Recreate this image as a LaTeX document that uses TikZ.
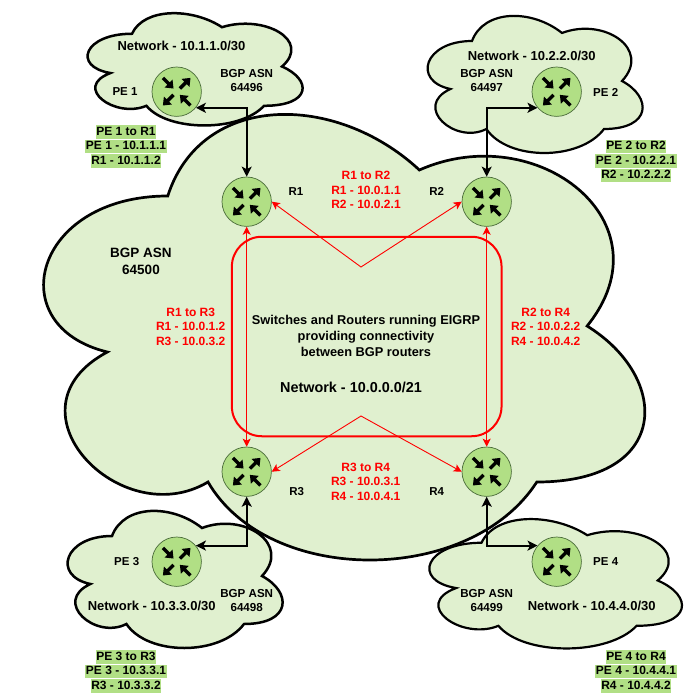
\documentclass[tikz,border=0pt]{standalone}
\usepackage{fontspec}
\setmainfont{Liberation Sans}
\usetikzlibrary{arrows.meta}
\definecolor{cloudfill}{HTML}{E0F0CF}
\definecolor{routerfill}{HTML}{B1DF85}
\definecolor{routerline}{HTML}{4A6B3A}
\definecolor{corered}{HTML}{FF0000}
\newcommand{\cloudshape}[5]{%
  \path[#5,shift={(#1,#2)},x=#3pt,y=-#4pt]
    (.25,.25) .. controls (.05,.25) and (0,.5) .. (.16,.55)
    .. controls (0,.66) and (.18,.9) .. (.31,.8)
    .. controls (.4,1) and (.7,1) .. (.8,.8)
    .. controls (1,.8) and (1,.6) .. (.875,.5)
    .. controls (1,.3) and (.8,.1) .. (.625,.2)
    .. controls (.5,.05) and (.3,.05) .. (.25,.25) -- cycle;}
\newcommand{\hlb}[1]{\setlength{\fboxsep}{0pt}\colorbox{routerfill}{\vrule height 9.9pt depth 3.2pt width 0pt\hspace{.5pt}#1\hspace{.5pt}}}
\tikzset{
  routernode/.style={circle,draw=routerline,line width=.7pt,fill=routerfill,minimum size=49.4pt,inner sep=0pt},
  arrout/.pic={\fill[black] (4.5,-1.7)--(12.5,-1.7)--(12.5,-5.6)--(19.5,0)--(12.5,5.6)--(12.5,1.7)--(4.5,1.7)--cycle;},
  arrin/.pic={\fill[black] (19.5,-1.7)--(11.5,-1.7)--(11.5,-5.6)--(4.5,0)--(11.5,5.6)--(11.5,1.7)--(19.5,1.7)--cycle;},
  labbgp/.style={font=\fontsize{11.6}{14.6}\selectfont\bfseries,align=center,inner sep=0pt,text=black},
  labrtr/.style={font=\fontsize{11.5}{14}\selectfont\bfseries,inner sep=0pt,text=black},
  labnet/.style={font=\fontsize{13}{15}\selectfont\bfseries,inner sep=0pt,text=black},
  labred/.style={font=\fontsize{12}{14.6}\selectfont\bfseries,align=center,inner sep=0pt,text=corered},
  labhl/.style={font=\fontsize{12}{14.5}\selectfont\bfseries,align=center,inner sep=0pt,text=black},
  link/.style={line width=1.8pt,black,{Stealth[length=10pt,width=10pt,inset=2.5pt]}-{Stealth[length=10pt,width=10pt,inset=2.5pt]}},
  redlink/.style={line width=.9pt,corered,{Stealth[length=8pt,width=8pt,inset=2pt]}-{Stealth[length=8pt,width=8pt,inset=2pt]}},
}
\begin{document}
\begin{tikzpicture}[x=1pt,y=-1pt]
\useasboundingbox (0,0) rectangle (693,693);
% cloud fills
\cloudshape{0}{66}{671}{520}{fill=cloudfill}
\cloudshape{72}{1}{240}{131}{fill=cloudfill}
\cloudshape{412}{1}{240}{160}{fill=cloudfill}
\cloudshape{52}{496}{240}{160}{fill=cloudfill}
\cloudshape{411}{505}{282}{151}{fill=cloudfill}
% cloud outlines
\cloudshape{0}{66}{671}{520}{draw=black,line width=2.7pt}
\cloudshape{72}{1}{240}{131}{draw=black,line width=2.5pt}
\cloudshape{412}{1}{240}{160}{draw=black,line width=2.2pt}
\cloudshape{52}{496}{240}{160}{draw=black,line width=2.5pt}
\cloudshape{411}{505}{282}{151}{draw=black,line width=2.2pt}
% core
\node[draw=corered,line width=2pt,rounded corners=30pt,minimum width=269.7pt,minimum height=199.5pt,inner sep=0pt] (core) at (366.7,336.5) {};
% routers
\node[routernode] (R1) at (246.7,201.7) {};
\node[routernode] (R2) at (486.7,201.7) {};
\node[routernode] (R3) at (246.7,471.7) {};
\node[routernode] (R4) at (486.7,471.7) {};
\node[routernode] (PE1) at (176.7,91.7) {};
\node[routernode] (PE2) at (556.7,91.7) {};
\node[routernode] (PE3) at (176.7,561.7) {};
\node[routernode] (PE4) at (556.7,561.7) {};
\foreach \r in {R1,R2,R3,R4,PE1,PE2,PE3,PE4}{
  \pic[rotate=45] at (\r) {arrout};
  \pic[rotate=-135] at (\r) {arrout};
  \pic[rotate=135] at (\r) {arrin};
  \pic[rotate=-45] at (\r) {arrin};
}
\coordinate (apexT) at (361,267);
\coordinate (apexB) at (361,416);
% connectors
\draw[link] (PE1.-40) -| (R1.north);
\draw[link] (PE2.220) -| (R2.north);
\draw[link] (PE3.40) -| (R3.south);
\draw[link] (PE4.140) -| (R4.south);
\draw[redlink] (R1.east) -- (apexT) -- (R2.west);
\draw[redlink] (R3.east) -- (apexB) -- (R4.west);
\draw[redlink] (R1.south) -- (R3.north);
\draw[redlink] (R2.south) -- (R4.north);
% labels
\node[labnet] (netA) at (181.5,46) {Network - 10.1.1.0/30};
\node[labnet] (netB) at (531.7,56) {Network - 10.2.2.0/30};
\node[labnet] (netC) at (151.7,606) {Network - 10.3.3.0/30};
\node[labnet] (netD) at (591.7,606) {Network - 10.4.4.0/30};
\node[labbgp] (asnA) at (246.7,80.5) {BGP ASN\\64496};
\node[labbgp] (asnB) at (486.7,80.5) {BGP ASN\\64497};
\node[labbgp] (asnC) at (246.7,600.5) {BGP ASN\\64498};
\node[labbgp] (asnD) at (486.7,600.5) {BGP ASN\\64499};
\node[font=\fontsize{13.5}{17}\selectfont\bfseries,align=center,inner sep=0pt] (asnM) at (141,261.5) {BGP ASN\\64500};
\node[labrtr] (tPEa) at (125,92) {PE 1};
\node[labrtr] (tPEb) at (605.7,92) {PE 2};
\node[labrtr] (tPEc) at (126.7,561.7) {PE 3};
\node[labrtr] (tPEd) at (605.7,561.7) {PE 4};
\node[labrtr] (tRa) at (296,191.5) {R1};
\node[labrtr] (tRb) at (436.7,191.5) {R2};
\node[labrtr] (tRc) at (296.7,491.7) {R3};
\node[labrtr] (tRd) at (436.7,491.7) {R4};
\node[labhl] (hlA) at (126,146.5) {\hlb{PE 1 to R1}\\\hlb{PE 1 - 10.1.1.1}\\\hlb{R1 - 10.1.1.2}};
\node[labhl] (hlB) at (636,161) {\hlb{PE 2 to R2}\\\hlb{PE 2 - 10.2.2.1}\\\hlb{R2 - 10.2.2.2}};
\node[labhl] (hlC) at (126,671.5) {\hlb{PE 3 to R3}\\\hlb{PE 3 - 10.3.3.1}\\\hlb{R3 - 10.3.3.2}};
\node[labhl] (hlD) at (636,671.5) {\hlb{PE 4 to R4}\\\hlb{PE 4 - 10.4.4.1}\\\hlb{R4 - 10.4.4.2}};
\node[labred] (rA) at (366,190) {R1 to R2\\R1 - 10.0.1.1\\R2 - 10.0.2.1};
\node[labred] (rB) at (365.7,481.5) {R3 to R4\\R3 - 10.0.3.1\\R4 - 10.0.4.1};
\node[labred] (rC) at (190.7,326.5) {R1 to R3\\R1 - 10.0.1.2\\R3 - 10.0.3.2};
\node[labred] (rD) at (545.7,326.5) {R2 to R4\\R2 - 10.0.2.2\\R4 - 10.0.4.2};
\node[font=\fontsize{12.8}{16}\selectfont\bfseries,align=center,inner sep=0pt] (coreT) at (366,335.5) {Switches and Routers running EIGRP\\providing connectivity\\between BGP routers};
\node[font=\fontsize{14.4}{16}\selectfont\bfseries,inner sep=0pt] (coreN) at (351,387) {Network - 10.0.0.0/21};
\end{tikzpicture}
\end{document}
